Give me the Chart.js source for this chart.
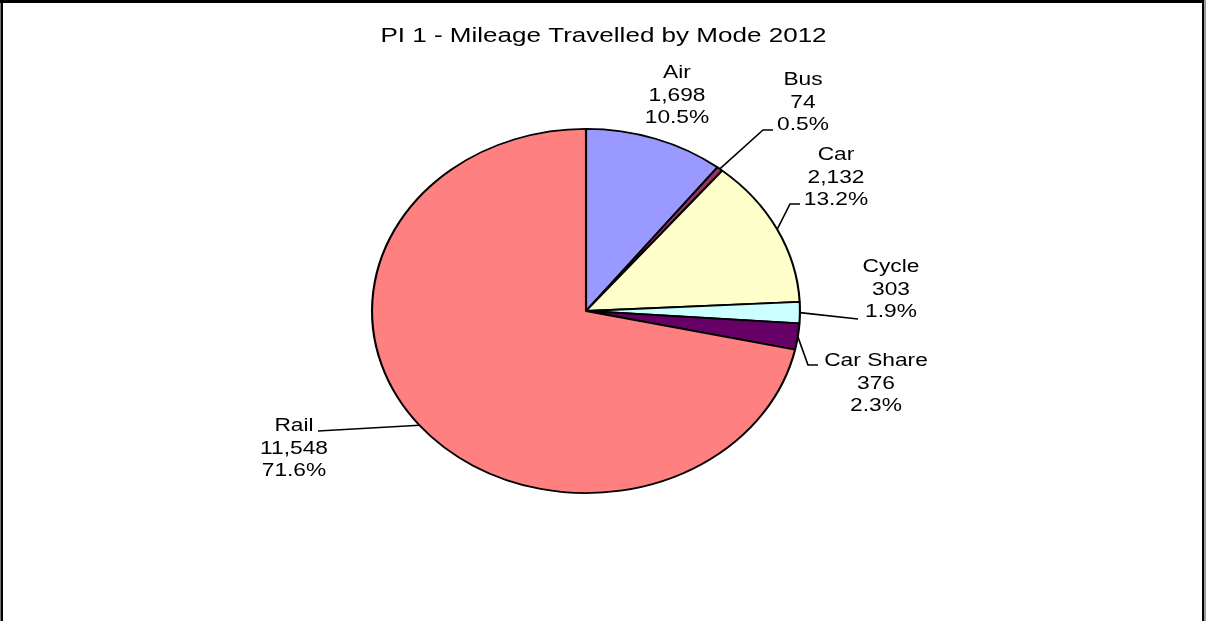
<!DOCTYPE html>
<html><head><meta charset="utf-8">
<style>html,body{margin:0;padding:0;background:#fff;overflow:hidden}canvas{display:block}</style>
<script src="https://cdn.jsdelivr.net/npm/chart.js@4.4.1/dist/chart.umd.min.js"></script>
</head><body>
<div style="width:1207px;height:621px;position:relative"><canvas id="c" width="1207" height="621"></canvas></div>
<script>
const chartTitle = 'PI 1 - Mileage Travelled by Mode 2012';
const categories = ['Air', 'Bus', 'Car', 'Cycle', 'Car Share', 'Rail'];
const mileage = [1698, 74, 2132, 303, 376, 11548];
const sliceColors = ['#9999FF', '#993366', '#FFFFCC', '#CCFFFF', '#660066', '#FF8080'];

// label layout: text centre x, first baseline y, and leader elbow points (null = none)
const labelX = [677, 803, 836, 891, 876, 294];
const labelY = [78, 85, 160, 272, 366, 431];
const leaderPts = [
  null,
  [[763, 130], [773, 130]],
  [[790, 204], [800, 204]],
  [[858, 319]],
  [[808, 365], [818, 365]],
  [[318, 431]]
];

const SX = 215 / 183;       // horizontal stretch of the pie
const TEXT_SX = 1.30;       // horizontal stretch of label text
const TITLE_SX = 1.27;
const FONT = '"Liberation Sans", Arial, sans-serif';
const total = mileage.reduce((a, b) => a + b, 0);
const fmt = v => v.toLocaleString('en-US');

function drawText(ctx, txt, x, y, size, sx) {
  ctx.save();
  ctx.translate(x, y);
  ctx.scale(sx, 1);
  ctx.font = size + 'px ' + FONT;
  ctx.textAlign = 'center';
  ctx.textBaseline = 'alphabetic';
  ctx.fillStyle = '#000';
  ctx.fillText(txt, 0, 0);
  ctx.restore();
}

const framePlugin = {
  id: 'frame',
  beforeDraw(chart) {
    const ctx = chart.ctx;
    ctx.save();
    ctx.fillStyle = '#fff';
    ctx.fillRect(0, 0, chart.width, chart.height);
    ctx.fillStyle = '#777';
    ctx.fillRect(0, 0, 1, chart.height);
    ctx.fillStyle = '#000';
    ctx.fillRect(1, 0, 2, chart.height);
    ctx.fillRect(0, 0, 1205, 3);
    ctx.fillRect(1202, 0, 2, chart.height);
    ctx.fillStyle = '#999';
    ctx.fillRect(1204, 0, 2, chart.height);
    ctx.restore();
  }
};

const ellipsePlugin = {
  id: 'ellipse',
  beforeDatasetsDraw(chart) {
    const a = chart.getDatasetMeta(0).data[0];
    const ctx = chart.ctx;
    ctx.save();
    ctx.translate(a.x, a.y);
    ctx.scale(SX, 1);
    ctx.translate(-a.x, -a.y);
  },
  afterDatasetsDraw(chart) {
    chart.ctx.restore();
  }
};

const labelPlugin = {
  id: 'labels',
  afterDraw(chart) {
    const ctx = chart.ctx;
    drawText(ctx, chartTitle, 603.5, 42, 20.5, TITLE_SX);
    const meta = chart.getDatasetMeta(0);
    meta.data.forEach((arc, i) => {
      const mid = (arc.startAngle + arc.endAngle) / 2;
      const ex = arc.x + Math.cos(mid) * arc.outerRadius * SX;
      const ey = arc.y + Math.sin(mid) * arc.outerRadius;
      if (leaderPts[i]) {
        ctx.save();
        ctx.strokeStyle = '#000';
        ctx.lineWidth = 1.6;
        ctx.beginPath();
        ctx.moveTo(ex, ey);
        leaderPts[i].forEach(p => ctx.lineTo(p[0], p[1]));
        ctx.stroke();
        ctx.restore();
      }
      const pct = (mileage[i] / total * 100).toFixed(1) + '%';
      const lines = [categories[i], fmt(mileage[i]), pct];
      lines.forEach((t, k) => drawText(ctx, t, labelX[i], labelY[i] + k * 22.5, 17.5, TEXT_SX));
    });
  }
};

new Chart(document.getElementById('c'), {
  type: 'pie',
  data: {
    labels: categories,
    datasets: [{
      data: mileage,
      backgroundColor: sliceColors,
      borderColor: '#000',
      borderWidth: 1.8,
      borderAlign: 'center'
    }]
  },
  options: {
    responsive: false,
    animation: false,
    devicePixelRatio: 1,
    layout: { padding: { left: 403, right: 438, top: 128, bottom: 127 } },
    plugins: { legend: { display: false }, tooltip: { enabled: false }, title: { display: false } }
  },
  plugins: [framePlugin, ellipsePlugin, labelPlugin]
});
</script>
</body></html>
